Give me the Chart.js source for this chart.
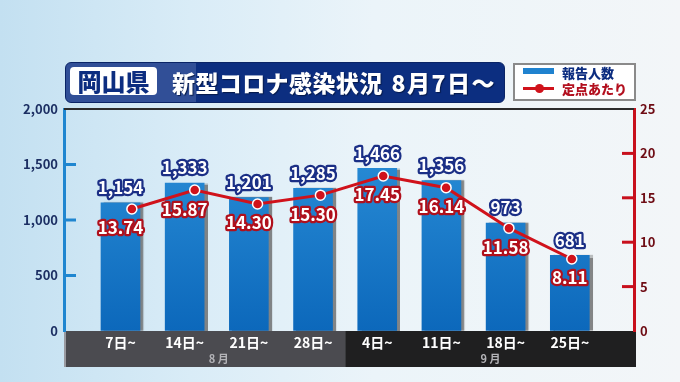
<!DOCTYPE html>
<html lang="ja">
<head>
<meta charset="utf-8">
<script src="https://cdn.jsdelivr.net/npm/chart.js@4"></script>
<style>
html, body { margin: 0; padding: 0; }
body {
    width: 680px; height: 382px; overflow: hidden; position: relative;
    background: linear-gradient(90deg, #c3e0f1 0%, #d9ecf7 28%, #ebf4f9 55%, #f3f6f8 100%);
    font-family: "Noto Sans CJK JP", sans-serif;
}
canvas { position: absolute; left: 0; top: 0; }
.title {
    position: absolute; left: 65px; top: 62px; width: 440px; height: 41px;
    box-sizing: border-box; border-radius: 6px; border: 1px solid #0a2466;
    background: linear-gradient(90deg, #314f97 0, #314f97 130px, #0c2e80 130px, #0c2e80 100%);
}
.pref {
    position: absolute; left: 4px; top: 4px; width: 87px; height: 28px;
    background: #fff; border-radius: 4px; color: #0c2d80;
    font-weight: 900; font-size: 24px; line-height: 28px; text-align: center;
}
.head {
    position: absolute; left: 106px; top: 0; height: 39px; line-height: 39px;
    color: #fff; font-weight: 900; font-size: 23px; letter-spacing: 0.4px; white-space: nowrap;
    text-shadow: 1px 1px 1px #061a4a;
}
.head .d { margin-left: 9px; letter-spacing: 1.5px; }
.legend {
    position: absolute; left: 513px; top: 63px; width: 123px; height: 38px;
    box-sizing: border-box; background: #fff; border: 2px solid #8a8a8a;
}
.legend .sw { position: absolute; left: 8px; top: 3px; width: 31px; height: 6px; background: #1f82cf; }
.legend .ln { position: absolute; left: 8px; top: 22px; width: 31px; height: 3px; background: #d0121b; }
.legend .dot { position: absolute; left: 20px; top: 19px; width: 9px; height: 9px; border-radius: 50%; background: #d0121b; }
.legend .t { position: absolute; left: 47px; font-weight: 900; font-size: 13px; line-height: 16px; white-space: nowrap; }
</style>
</head>
<body>
<canvas id="chart" width="680" height="382"></canvas>
<div class="title">
    <div class="pref">岡山県</div>
    <div class="head">新型コロナ感染状況<span class="d">8月7日～</span></div>
</div>
<div class="legend">
    <div class="sw"></div><div class="t" style="top:0;color:#0c2d80">報告人数</div>
    <div class="ln"></div><div class="dot"></div><div class="t" style="top:16px;color:#b3101f">定点あたり</div>
</div>
<script>
// Weekly data (reporting weeks starting Aug 7)
const weeks = ['7日~', '14日~', '21日~', '28日~', '4日~', '11日~', '18日~', '25日~'];
const months = ['8 月', '9 月'];
const reports = [1154, 1333, 1201, 1285, 1466, 1356, 973, 681];
const perSite = [13.74, 15.87, 14.30, 15.30, 17.45, 16.14, 11.58, 8.11];
const leftTicks = [0, 500, 1000, 1500, 2000];
const rightTicks = [0, 5, 10, 15, 20, 25];

const FONT = '"Noto Sans CJK JP", sans-serif';

// Bar gradient across the plot height
function barFill(context) {
    const area = context.chart.chartArea;
    if (!area) return '#1f82cf';
    const g = context.chart.ctx.createLinearGradient(0, area.top, 0, area.bottom);
    g.addColorStop(0, '#2f94dc');
    g.addColorStop(1, '#0c68bb');
    return g;
}

// Band under the plot, axis tick marks, top rule, value labels
const decor = {
    id: 'decor',
    beforeDraw(chart) {
        const { ctx, chartArea: a, scales: { x } } = chart;
        const split = x.getPixelForValue(3.5);
        ctx.save();
        ctx.fillStyle = '#4b4b50';
        ctx.fillRect(a.left, a.bottom, split - a.left, 36);
        ctx.fillStyle = '#1f1f20';
        ctx.fillRect(split, a.bottom, a.right + 2 - split, 36);
        ctx.fillStyle = '#9a9aa0';
        ctx.fillRect(a.left, a.bottom, 2, 36);
        ctx.restore();
    },
    beforeDatasetDraw(chart, args) {
        if (args.index !== 0) return;
        const ctx = chart.ctx;
        ctx.save();
        ctx.shadowColor = 'rgba(95,95,95,0.75)';
        ctx.shadowOffsetX = 3;
        ctx.shadowOffsetY = 0;
        ctx.shadowBlur = 1;
    },
    afterDatasetDraw(chart, args) {
        if (args.index !== 0) return;
        chart.ctx.restore();
    },
    afterDraw(chart) {
        const { ctx, chartArea: a, scales: { x, y, y2 } } = chart;
        ctx.save();
        // top rule
        ctx.fillStyle = '#2b2b2b';
        ctx.fillRect(a.left, a.top - 1, a.right - a.left, 2);
        // inner tick marks
        ctx.lineWidth = 3;
        ctx.strokeStyle = '#1f86d0';
        leftTicks.slice(1, -1).forEach(v => {
            const py = y.getPixelForValue(v);
            ctx.beginPath(); ctx.moveTo(a.left, py); ctx.lineTo(a.left + 12, py); ctx.stroke();
        });
        ctx.strokeStyle = '#c8101c';
        rightTicks.slice(1, -1).forEach(v => {
            const py = y2.getPixelForValue(v);
            ctx.beginPath(); ctx.moveTo(a.right, py); ctx.lineTo(a.right - 12, py); ctx.stroke();
        });
        // month labels
        ctx.fillStyle = '#b4b4b8';
        ctx.font = 'bold 11px ' + FONT;
        ctx.textAlign = 'center';
        ctx.textBaseline = 'middle';
        const split = x.getPixelForValue(3.5);
        ctx.fillText(months[0], x.getPixelForValue(1.53), a.bottom + 28);
        ctx.fillText(months[1], (split + a.right + 2) / 2, a.bottom + 28);

        // value labels
        const bars = chart.getDatasetMeta(0).data;
        const pts = chart.getDatasetMeta(1).data;
        ctx.lineJoin = 'round';
        ctx.font = 'bold 17px ' + FONT;
        bars.forEach((bar, i) => {
            const txt = reports[i].toLocaleString('en-US');
            ctx.lineWidth = 4.5;
            ctx.strokeStyle = '#1b2f86';
            ctx.strokeText(txt, bar.x, bar.y - 15);
            ctx.fillStyle = '#ffffff';
            ctx.fillText(txt, bar.x, bar.y - 15);
        });
        pts.forEach((pt, i) => {
            const txt = perSite[i].toFixed(2);
            const lx = bars[i].x, ly = pt.y + 19;
            ctx.lineWidth = 4.5;
            ctx.strokeStyle = '#b0101c';
            ctx.strokeText(txt, lx, ly);
            ctx.fillStyle = '#ffffff';
            ctx.fillText(txt, lx, ly);
        });
        ctx.restore();
    }
};

new Chart(document.getElementById('chart'), {
    type: 'bar',
    data: {
        datasets: [{
            type: 'bar',
            data: reports.map((v, i) => ({ x: i, y: v })),
            backgroundColor: barFill,
            barThickness: 39,
            grouped: false,
            xAxisID: 'x',
            yAxisID: 'y',
            order: 1
        }, {
            type: 'line',
            data: perSite.map((v, i) => ({ x: i, y: v })),
            borderColor: '#d0121b',
            borderWidth: 3,
            pointRadius: 5,
            pointBackgroundColor: '#d0121b',
            pointBorderColor: '#ffffff',
            pointBorderWidth: 1.5,
            tension: 0,
            xAxisID: 'x2',
            yAxisID: 'y2',
            order: 0
        }]
    },
    options: {
        responsive: false,
        animation: false,
        devicePixelRatio: 1,
        layout: { padding: { top: 109, left: 0, right: 0, bottom: 0 } },
        plugins: { legend: { display: false }, title: { display: false }, tooltip: { enabled: false } },
        scales: {
            x: {
                type: 'linear',
                position: 'bottom',
                offset: false,
                min: -0.88,
                max: 8.0,
                afterBuildTicks: (scale) => { scale.ticks = weeks.map((w, i) => ({ value: i })); },
                afterFit: (scale) => { scale.height = 51; },
                grid: { display: false, drawTicks: false, offset: false },
                border: { display: false },
                ticks: {
                    autoSkip: false,
                    maxRotation: 0,
                    padding: 3,
                    color: '#ffffff',
                    font: { family: FONT, size: 14, weight: 'bold' },
                    callback: (v) => weeks[v]
                }
            },
            x2: {
                type: 'linear',
                display: false,
                offset: false,
                min: -1.08,
                max: 7.99
            },
            y: {
                position: 'left',
                min: 0,
                max: 2000,
                afterBuildTicks: (scale) => { scale.ticks = leftTicks.map(v => ({ value: v })); },
                afterFit: (scale) => { scale.width = 64; },
                grid: { drawOnChartArea: false, drawTicks: false },
                border: { color: '#1f86d0', width: 3 },
                ticks: {
                    padding: 6,
                    color: '#1c2f63',
                    font: { family: FONT, size: 13, weight: 'bold' },
                    callback: (v) => v.toLocaleString('en-US')
                }
            },
            y2: {
                position: 'right',
                min: 0,
                max: 25,
                afterBuildTicks: (scale) => { scale.ticks = rightTicks.map(v => ({ value: v })); },
                afterFit: (scale) => { scale.width = 46; },
                grid: { drawOnChartArea: false, drawTicks: false },
                border: { color: '#c8101c', width: 3 },
                ticks: {
                    padding: 6,
                    color: '#6e0c14',
                    font: { family: FONT, size: 13, weight: 'bold' }
                }
            }
        }
    },
    plugins: [decor]
});
</script>
</body>
</html>
